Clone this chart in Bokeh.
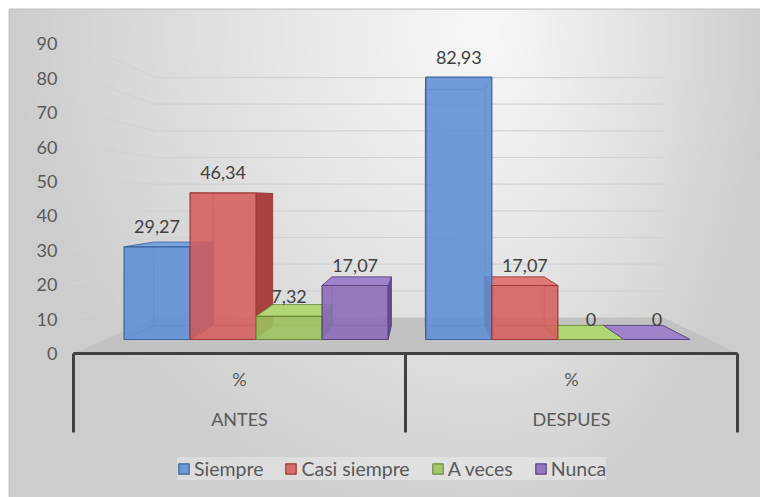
import numpy as np
from bokeh.plotting import figure
from bokeh.models import Range1d, Legend, LegendItem
from bokeh.embed import file_html
from bokeh.resources import INLINE
from bokeh.core.properties import value

# ---------------- data ----------------
categories = ["ANTES", "DESPUES"]
measure_label = "%"
series_names = ["Siempre", "Casi siempre", "A veces", "Nunca"]
siempre = [29.27, 82.93]
casi_siempre = [46.34, 17.07]
a_veces = [7.32, 0.0]
nunca = [17.07, 0.0]
y_ticks = [0, 10, 20, 30, 40, 50, 60, 70, 80, 90]

series_values = [siempre, casi_siempre, a_veces, nunca]

# ---------------- styles ----------------
FONT = "Lato"
TXT = "#595959"
LBL = "#404040"
front_colors = ["#5E8ED4", "#D55F5D", "#9CC45E", "#8A6AB6"]
top_colors = ["#78A4E4", "#E07876", "#B0D676", "#9E83CA"]
side_colors = ["#4673B6", "#A8423F", "#7B9E43", "#674C8F"]
edge_colors = ["#3A639F", "#9A3937", "#6B8A38", "#5A4382"]

# ---------------- 3-D layout (screen geometry of the box) ----------------
W, H = 760, 497
FRAME_L, FRAME_T = 9, 9
X0 = 73.0        # screen x of front-left floor corner
CAT_PX = 332.0   # screen width of one category on the front edge
Y0 = 353.0       # screen y of the front floor edge (value 0)
K = 3.48         # px per value unit on the front plane
K_AX = 3.44      # px per unit for the value-axis labels
VP_X, VP_Y = 421.0, 199.0
S_WALL, S_FRONT, S_BACK = 0.766, 0.909, 0.818
GROUP_PAD = 0.0625
BAR_W = (1 - 2 * GROUP_PAD) / len(series_names)
LABEL_GAP_PX = 20.0


def u_of(px):
    return (px - X0) / CAT_PX


def v_of(py):
    return (Y0 - py) / K


VPU, VPV = u_of(VP_X), v_of(VP_Y)


def proj(u, v, s):
    return VPU + s * (u - VPU), VPV + s * (v - VPV)


def poly(pts):
    return [q[0] for q in pts], [q[1] for q in pts]


n_cat = len(categories)

p = figure(width=W, height=H,
           x_range=Range1d(u_of(FRAME_L), u_of(W)),
           y_range=Range1d(v_of(H), v_of(FRAME_T)),
           output_backend="svg", toolbar_location=None,
           x_axis_location=None, y_axis_location=None,
           min_border_left=FRAME_L, min_border_top=FRAME_T,
           min_border_right=0, min_border_bottom=0)
p.extra_y_ranges = {"axis": Range1d(-(H - Y0) / K_AX, (Y0 - FRAME_T) / K_AX)}
p.grid.visible = False
p.border_fill_color = "white"
p.outline_line_color = "#C4C4C4"
p.outline_line_width = 2

# ---------------- background gradient ----------------
GW, GH = 376, 244
cols = FRAME_L + (np.arange(GW) + 0.5) * (W - FRAME_L) / GW
rows = H - (np.arange(GH) + 0.5) * (H - FRAME_T) / GH
PX, PY = np.meshgrid(cols, rows)
dxg = PX - 490.0
rx = np.where(dxg < 0, 480.0, 280.0)
f = np.clip(np.sqrt((dxg / rx) ** 2 + ((PY - 30.0) / 520.0) ** 2), 0, 1)
g = (247 - 42 * f ** 1.15).astype(np.uint8)
img = np.empty((GH, GW), dtype=np.uint32)
view = img.view(dtype=np.uint8).reshape((GH, GW, 4))
view[..., 0] = g
view[..., 1] = g
view[..., 2] = g
view[..., 3] = 255
p.image_rgba(image=[img], x=p.x_range.start, y=p.y_range.start,
             dw=p.x_range.end - p.x_range.start,
             dh=p.y_range.end - p.y_range.start)

# ---------------- walls: gridlines ----------------
gx, gy = [], []
for t in y_ticks[1:]:
    a = proj(0, t, 1.0)
    b = proj(0, t, S_WALL)
    c = proj(n_cat, t, S_WALL)
    gx.append([a[0], b[0], c[0]])
    gy.append([a[1], b[1], c[1]])
p.multi_line(gx, gy, line_color="#D2D2D2", line_width=1.2)

# ---------------- floor ----------------
fx, fy = poly([proj(0, 0, 1.0), proj(n_cat, 0, 1.0),
               proj(n_cat, 0, S_WALL), proj(0, 0, S_WALL)])
p.patch(fx, fy, fill_color="#C2C2C2", line_color=None)

# ---------------- bars (3-D boxes) ----------------
edges_by_s, sides_by_s, tops_by_s, fronts_by_s = [], [], [], []
lab_x, lab_y, lab_t = [], [], []
for j, vals in enumerate(series_values):
    ex, ey, sx, sy, tx, ty, frx, fry = [], [], [], [], [], [], [], []
    for c, h in enumerate(vals):
        ul = c + GROUP_PAD + j * BAR_W
        ur = ul + BAR_W
        FLb, FRb, FRt, FLt = (proj(ul, 0, S_FRONT), proj(ur, 0, S_FRONT),
                              proj(ur, h, S_FRONT), proj(ul, h, S_FRONT))
        BLb, BRb, BRt, BLt = (proj(ul, 0, S_BACK), proj(ur, 0, S_BACK),
                              proj(ur, h, S_BACK), proj(ul, h, S_BACK))
        # hidden back edges (seen through the translucent front)
        for e in ([BLb, BRb, BRt, BLt, BLb], [FLb, BLb], [FRb, BRb], [FRt, BRt], [FLt, BLt]):
            xx, yy = poly(e)
            ex.append(xx)
            ey.append(yy)
        # visible side face
        if ur < VPU:
            xx, yy = poly([FRb, FRt, BRt, BRb])
            sx.append(xx); sy.append(yy)
        elif ul > VPU:
            xx, yy = poly([FLb, FLt, BLt, BLb])
            sx.append(xx); sy.append(yy)
        # visible top face
        if h < VPV:
            xx, yy = poly([FLt, FRt, BRt, BLt])
            tx.append(xx); ty.append(yy)
        xx, yy = poly([FLb, FRb, FRt, FLt])
        frx.append(xx); fry.append(yy)
        # data label
        cu = (ul + ur) / 2
        top = proj(cu, h, S_FRONT)
        lab_x.append(top[0])
        lab_y.append(top[1] + LABEL_GAP_PX / K)
        lab_t.append(("%g" % h).replace(".", ","))
    edges_by_s.append((ex, ey))
    sides_by_s.append((sx, sy))
    tops_by_s.append((tx, ty))
    fronts_by_s.append((frx, fry))

for j in range(len(series_names)):
    ex, ey = edges_by_s[j]
    p.multi_line(ex, ey, line_color=edge_colors[j], line_alpha=0.55, line_width=1)
for j in range(len(series_names)):
    sx, sy = sides_by_s[j]
    if sx:
        p.patches(sx, sy, fill_color=side_colors[j], line_color=edge_colors[j],
                  line_alpha=0.7, line_width=1)
for j in range(len(series_names)):
    tx, ty = tops_by_s[j]
    if tx:
        p.patches(tx, ty, fill_color=top_colors[j], line_color=edge_colors[j],
                  line_alpha=0.7, line_width=1)
front_renderers = []
for j in range(len(series_names)):
    frx, fry = fronts_by_s[j]
    r = p.patches(frx, fry, fill_color=front_colors[j], fill_alpha=0.88,
                  line_color=edge_colors[j], line_width=1.2)
    front_renderers.append(r)

p.text(lab_x, lab_y, text=lab_t, text_align="center", text_baseline="middle",
       text_font=value(FONT), text_font_size="18px", text_color=LBL)

# ---------------- value axis labels ----------------
p.text([u_of(57)] * len(y_ticks), y_ticks, text=[str(t) for t in y_ticks],
       y_range_name="axis", text_align="right", text_baseline="middle",
       text_font=value(FONT), text_font_size="18px", text_color=TXT)

# ---------------- category axis ----------------
AX_COL = "#404040"
p.line([0, n_cat], [0, 0], line_color=AX_COL, line_width=3)
tick_bottom = v_of(432)
p.multi_line([[c, c] for c in range(n_cat + 1)],
             [[0, tick_bottom] for _ in range(n_cat + 1)],
             line_color=AX_COL, line_width=3)
cat_centers = [c + 0.5 for c in range(n_cat)]
p.text(cat_centers, [v_of(378)] * n_cat, text=[measure_label] * n_cat,
       text_align="center", text_baseline="middle",
       text_font=value(FONT), text_font_size="18px", text_color=TXT)
p.text(cat_centers, [v_of(418)] * n_cat, text=categories,
       text_align="center", text_baseline="middle",
       text_font=value(FONT), text_font_size="18px", text_color=TXT)

# ---------------- legend ----------------
legend = Legend(items=[LegendItem(label=nm, renderers=[front_renderers[j]])
                       for j, nm in enumerate(series_names)],
                orientation="horizontal", location=(168, 17))
legend.label_text_font = FONT
legend.label_text_font_size = "19.5px"
legend.label_text_color = TXT
legend.glyph_width = 13
legend.glyph_height = 13
legend.label_standoff = 4
legend.spacing = 21
legend.padding = 9
legend.margin = 0
legend.label_height = 20
legend.background_fill_color = "white"
legend.background_fill_alpha = 0.3
legend.border_line_color = None
p.add_layout(legend, "center")

open("out.html", "w").write(file_html(p, INLINE))
